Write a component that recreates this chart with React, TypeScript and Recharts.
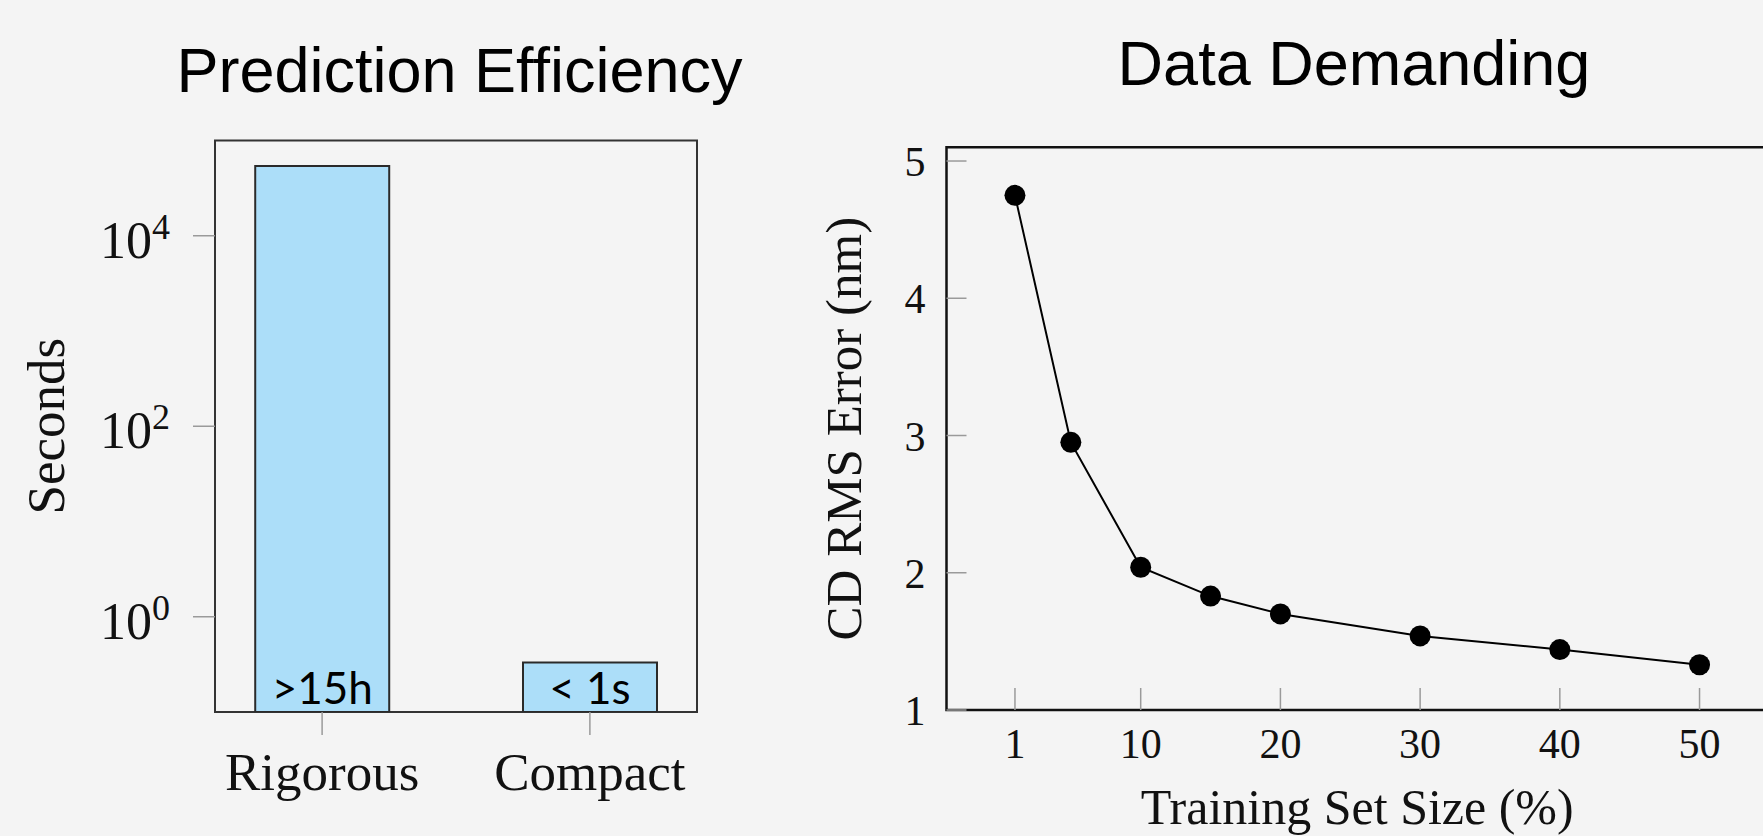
import React from 'react';
import {
  BarChart,
  Bar,
  XAxis,
  YAxis,
  ReferenceArea,
  LabelList,
  LineChart,
  Line,
  Label,
} from 'recharts';

// ---------- Data: Prediction Efficiency ----------
const methods = ['Rigorous', 'Compact'];
const methodPositions = [0, 1];
const secondsValues = [54000, 0.33];
const timeLabels = ['>15h', '< 1s'];
const secondsTicks = [1, 100, 10000];

// ---------- Data: Data Demanding ----------
const trainingSize = [1, 5, 10, 15, 20, 30, 40, 50];
const rmsError = [4.75, 2.95, 2.04, 1.83, 1.7, 1.54, 1.44, 1.33];
const trainingTicks = [1, 10, 20, 30, 40, 50];
const errorTicks = [1, 2, 3, 4, 5];

const titles = ['Prediction Efficiency', 'Data Demanding'];

const barData = methods.map((m, i) => ({
  pos: methodPositions[i],
  name: m,
  seconds: secondsValues[i],
  label: timeLabels[i],
}));

const lineData = trainingSize.map((s, i) => ({ size: s, error: rmsError[i] }));

const SERIF = '"Liberation Serif", "Times New Roman", serif';
const SANS = '"Liberation Sans", Arial, sans-serif';
const TEXT = '#111';
const TICK = '#9a9a9a';

// ---------- Left chart ticks ----------
const LeftYTick = (props: any) => {
  const { x, y, payload } = props;
  const exp = Math.round(Math.log10(payload.value));
  return (
    <g>
      <line x1={x - 22} x2={x} y1={y} y2={y} stroke={TICK} strokeWidth={1.5} />
      <text x={x - 45} y={y + 22} textAnchor="end" fontFamily={SERIF} fontSize={52} fill={TEXT}>
        <tspan>10</tspan>
        <tspan dy={-19} fontSize={36}>
          {exp}
        </tspan>
      </text>
    </g>
  );
};

const LeftXTick = (props: any) => {
  const { x, y, payload } = props;
  const idx = methodPositions.indexOf(payload.value);
  return (
    <g>
      <line x1={x} x2={x} y1={y} y2={y + 23} stroke={TICK} strokeWidth={1.5} />
      <text x={x} y={y + 78} textAnchor="middle" fontFamily={SERIF} fontSize={53} fill={TEXT}>
        {methods[idx]}
      </text>
    </g>
  );
};

const BarLabel = (props: any) => {
  const { x, y, width, height, value } = props;
  return (
    <text
      x={x + width / 2}
      y={y + height - 8}
      textAnchor="middle"
      fontFamily='Lato, "Open Sans", sans-serif'
      fontSize={44}
      fill="#000"
    >
      {value}
    </text>
  );
};

// ---------- Right chart ticks ----------
const RightYTick = (props: any) => {
  const { x, y, payload } = props;
  return (
    <g>
      <line x1={x} x2={x + 20} y1={y} y2={y} stroke={TICK} strokeWidth={1.5} />
      <text x={x - 21} y={y + 15} textAnchor="end" fontFamily={SERIF} fontSize={42} fill={TEXT}>
        {payload.value}
      </text>
    </g>
  );
};

const RightMirrorTick = (props: any) => {
  const { x, y } = props;
  return <line x1={x - 21} x2={x} y1={y} y2={y} stroke={TICK} strokeWidth={1.5} />;
};

const RightXTick = (props: any) => {
  const { x, y, payload } = props;
  return (
    <g>
      <line x1={x} x2={x} y1={y - 22} y2={y} stroke={TICK} strokeWidth={1.5} />
      <text x={x} y={y + 48} textAnchor="middle" fontFamily={SERIF} fontSize={42} fill={TEXT}>
        {payload.value}
      </text>
    </g>
  );
};

const SecondsLabel = (props: any) => {
  const vb = props.viewBox || {};
  const bx = vb.x + vb.width - 151;
  const cy = vb.y + vb.height / 2;
  return (
    <text
      x={bx}
      y={cy}
      textAnchor="middle"
      transform={`rotate(-90, ${bx}, ${cy})`}
      fontFamily={SERIF}
      fontSize={53}
      fill={TEXT}
    >
      Seconds
    </text>
  );
};

const ErrorLabel = (props: any) => {
  const vb = props.viewBox || {};
  const bx = vb.x + vb.width - 85;
  const cy = vb.y + vb.height / 2;
  return (
    <text
      x={bx}
      y={cy}
      textAnchor="middle"
      transform={`rotate(-90, ${bx}, ${cy})`}
      fontFamily={SERIF}
      fontSize={51}
      fill={TEXT}
    >
      CD RMS Error (nm)
    </text>
  );
};

const TrainingLabel = (props: any) => {
  const vb = props.viewBox || {};
  return (
    <text
      x={vb.x + vb.width / 2}
      y={vb.y + 114}
      textAnchor="middle"
      fontFamily={SERIF}
      fontSize={50}
      fill={TEXT}
    >
      Training Set Size (%)
    </text>
  );
};

export default function App() {
  return (
    <div
      style={{
        position: 'absolute',
        left: 0,
        top: 0,
        width: 1763,
        height: 836,
        overflow: 'hidden',
        background: '#f4f4f4',
      }}
    >
      <div style={{ position: 'absolute', left: 0, top: 0 }}>
        <BarChart
          width={760}
          height={836}
          data={barData}
          margin={{ top: 140.5, right: 63, bottom: 64, left: 115 }}
        >
          <XAxis
            dataKey="pos"
            type="number"
            domain={[-0.4, 1.4]}
            ticks={methodPositions}
            allowDataOverflow
            interval={0}
            height={60}
            axisLine={false}
            tickLine={false}
            tickSize={0}
            tickMargin={0}
            tick={<LeftXTick />}
          />
          <YAxis
            type="number"
            scale="log"
            domain={[0.1, 100000]}
            ticks={secondsTicks}
            allowDataOverflow
            interval={0}
            width={100}
            axisLine={false}
            tickLine={false}
            tickSize={0}
            tickMargin={0}
            tick={<LeftYTick />}
          >
            <Label content={<SecondsLabel />} />
          </YAxis>
          <Bar
            dataKey="seconds"
            barSize={134}
            fill="#acdef9"
            stroke="#2a2a2a"
            strokeWidth={2}
            isAnimationActive={false}
          >
            <LabelList dataKey="label" content={<BarLabel />} />
          </Bar>
          <ReferenceArea
            x1={-0.4}
            x2={1.4}
            y1={0.1}
            y2={100000}
            fill="none"
            fillOpacity={0}
            stroke="#333"
            strokeWidth={2}
            ifOverflow="visible"
          />
        </BarChart>
      </div>

      <div style={{ position: 'absolute', left: 780, top: 0 }}>
        <LineChart
          width={1000}
          height={836}
          data={lineData}
          margin={{ top: 147.3, right: 12, bottom: 66, left: 66.5 }}
        >
          <XAxis
            dataKey="size"
            type="number"
            domain={[-3.9, 54.9]}
            ticks={trainingTicks}
            allowDataOverflow
            interval={0}
            height={60}
            axisLine={false}
            tickLine={false}
            tickSize={0}
            tickMargin={0}
            tick={<RightXTick />}
          >
            <Label content={<TrainingLabel />} />
          </XAxis>
          <YAxis
            yAxisId="left"
            type="number"
            domain={[1, 5.1]}
            ticks={errorTicks}
            allowDataOverflow
            interval={0}
            width={100}
            axisLine={false}
            tickLine={false}
            tickSize={0}
            tickMargin={0}
            tick={<RightYTick />}
          >
            <Label content={<ErrorLabel />} />
          </YAxis>
          <YAxis
            yAxisId="right"
            orientation="right"
            type="number"
            domain={[1, 5.1]}
            ticks={errorTicks}
            allowDataOverflow
            interval={0}
            width={0}
            axisLine={false}
            tickLine={false}
            tickSize={0}
            tickMargin={0}
            tick={<RightMirrorTick />}
          />
          <ReferenceArea
            yAxisId="left"
            x1={-3.9}
            x2={54.9}
            y1={1}
            y2={5.1}
            fill="none"
            fillOpacity={0}
            stroke="#111"
            strokeWidth={2.5}
            ifOverflow="visible"
          />
          <Line
            yAxisId="left"
            dataKey="error"
            type="linear"
            stroke="#000"
            strokeWidth={2}
            dot={{ r: 10.5, fill: '#000', stroke: '#000', strokeWidth: 0 }}
            isAnimationActive={false}
          />
        </LineChart>
      </div>

      <svg
        width={1763}
        height={836}
        style={{ position: 'absolute', left: 0, top: 0, pointerEvents: 'none' }}
      >
        <text x={459.5} y={92} textAnchor="middle" fontFamily={SANS} fontSize={63} fill="#000">
          {titles[0]}
        </text>
        <text x={1354} y={85} textAnchor="middle" fontFamily={SANS} fontSize={63} fill="#000">
          {titles[1]}
        </text>
      </svg>
    </div>
  );
}
